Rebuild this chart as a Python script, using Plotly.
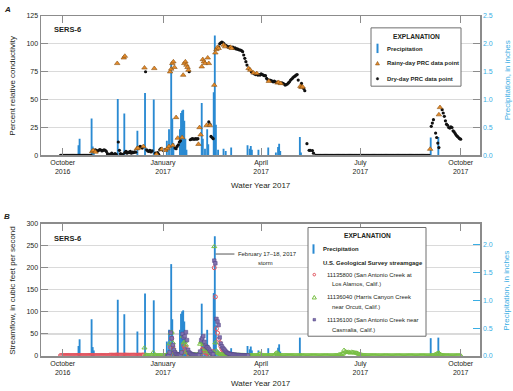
import plotly.graph_objects as go
import pandas as pd

# ---------------- data (day = days after 1 Oct 2016, start of water year 2017) ----------------
WY_START = "2016-10-01"

precip_day = [14, 15, 26, 27, 28, 50, 56, 68, 75, 83, 95, 97, 99, 100, 101,
              107, 108, 109, 110, 111, 112, 113, 127, 128, 130, 132, 133,
              138, 139, 140, 142, 147, 149, 154, 169, 171, 172, 173, 179,
              188, 195, 197, 198, 199, 217, 218, 337, 344]
precip_in = [0.18, 0.30, 0.66, 0.16, 0.10, 1.01, 0.75, 0.44, 1.12, 1.00, 0.26, 0.47, 1.65, 0.66, 0.22,
             0.47, 0.76, 0.80, 0.82, 0.62, 0.30, 0.10, 0.94, 0.30, 0.12, 0.47, 0.20,
             1.13, 2.15, 0.55, 0.10, 0.12, 0.08, 0.14, 0.18, 0.12, 0.17, 0.10, 0.10,
             0.14, 0.05, 0.15, 0.21, 0.08, 0.33, 0.05, 0.32, 0.33]

# Dry-day PRC: two runs of zero readings
dry_zero_days_1 = list(range(-2, 27))
dry_zero_vals_1 = [0, 0, 0, 0, 0, 0, 0, 0, 0, 0, 0, 0, 0, 0, 0,
                   0, 0, 0, 0, 0, 0, 0, 0, 0, 0, 0, 0, 0, 0]
dry_zero_days_2 = list(range(232, 337))
dry_zero_vals_2 = [0, 0, 0, 0, 0, 0, 0, 0, 0, 0, 0, 0, 0, 0, 0,
                   0, 0, 0, 0, 0, 0, 0, 0, 0, 0, 0, 0, 0, 0, 0,
                   0, 0, 0, 0, 0, 0, 0, 0, 0, 0, 0, 0, 0, 0, 0,
                   0, 0, 0, 0, 0, 0, 0, 0, 0, 0, 0, 0, 0, 0, 0,
                   0, 0, 0, 0, 0, 0, 0, 0, 0, 0, 0, 0, 0, 0, 0,
                   0, 0, 0, 0, 0, 0, 0, 0, 0, 0, 0, 0, 0, 0, 0,
                   0, 0, 0, 0, 0, 0, 0, 0, 0, 0, 0, 0, 0, 0, 0]

dry_day = [29, 30, 31, 32, 33, 34, 35, 36, 37, 38, 39, 40,
           41, 42, 43, 44, 45, 46, 47, 48, 49,
           51, 52, 53, 54, 55,
           57, 58, 59, 60, 61, 62, 63, 64, 65, 66, 67,
           70, 71, 72, 73,
           76,
           77, 78, 79, 80, 81, 82,
           85, 86, 87, 88,
           89, 90, 92, 93, 95,
           103, 104, 105, 106, 107, 108,
           116,
           117, 118, 119, 120, 121, 122, 123, 124,
           134, 135, 136, 137, 138,
           143, 144, 145, 146, 147, 148, 150, 151, 152, 153, 156, 157, 158, 159, 160, 161, 162, 163, 164,
           165, 166, 167, 168, 169, 171, 173, 174, 176, 177, 179, 180, 181, 182, 183, 184, 185, 186, 187, 188,
           190, 191, 192, 193, 194, 195, 196, 199, 201, 202, 203, 204, 205, 206, 207, 208, 209, 210, 211, 212,
           213, 214, 215, 216, 219, 221, 222,
           224, 226, 227, 229, 230,
           338, 339, 340, 342, 343, 344, 345,
           348, 349, 350, 351, 352, 353, 354, 355, 356, 357, 358, 359, 360, 361, 362, 363, 364, 365]
dry_val = [4.5, 5.0, 4.2, 3.8, 4.5, 5.2, 4.8, 4.0, 4.5, 5.0, 4.6, 3.5,
           1.5, 1.0, 0.8, 1.2, 2.0, 0.5, 1.0, 1.5, 1.0,
           12.0, 4.5, 1.5, 0.8, 1.0,
           2.5, 3.5, 2.0, 3.0, 2.5, 3.5, 2.0, 3.0, 2.5, 3.2, 2.8,
           7.0, 8.0, 7.5, 6.5,
           75.0,
           5.0, 4.0, 3.5, 4.5, 3.0, 4.0,
           2.0, 1.5, 2.5, 1.0,
           5.0, 6.0, 4.5, 5.0, 5.5,
           6.5, 6.0, 8.0, 9.5, 12.0, 13.0,
           75.0,
           14.0, 14.5, 15.0, 14.5, 14.5, 15.0, 14.5, 15.0,
           30.0, 28.0, 17.0, 16.0, 15.0,
           97.0, 100.0, 101.0, 101.5, 101.0, 100.0, 98.5, 97.5, 97.0, 97.5, 97.0, 96.0, 96.5, 95.5, 95.5, 95.0, 94.5, 94.5, 94.0,
           93, 90, 87, 84, 81, 77.5, 75, 74, 73, 72.5, 72, 72.5, 72, 73, 72.5, 72, 71.5, 71.5, 69, 68,
           67.5, 67, 66.5, 66, 66.5, 66, 65.5, 65, 65, 64.5, 64, 63, 63.5, 64, 65, 66, 67.5, 68.5, 69.5, 70.5,
           71, 72, 72.5, 67.5, 64.5, 60, 58,
           10.5, 4.5, 4.5, 4.3, 2.0,
           26, 29, 32, 20, 16, 11, 7,
           41, 38, 35, 31, 28, 27, 25, 24.5, 25.5, 25, 22, 21, 19.5, 18, 17, 16, 15, 14.5]

rainy_day = [27, 28, 30, 50, 56, 57, 68, 69, 74, 75, 84, 86,
             91, 94, 96, 97.5, 98.5, 99.5, 100.5, 101.5, 102.5, 101, 104, 105.5, 109.5, 110.5, 111.5, 112.5, 113.5, 114.5, 115.3,
             124.5, 125.5, 126.5, 127.5, 128.5, 129.5, 130.5, 132, 133, 134, 135,
             139, 140, 141, 142, 143, 147.5, 149, 154, 155,
             170.5, 172, 175, 178, 189, 197, 198, 200, 218, 219, 220, 337, 345, 346]
rainy_val = [3.5, 4.5, 3.0, 82.5, 87.5, 89.0, 6.0, 6.5, 8.0, 78.5, 78.0, 1.0,
             5.5, 4.5, 6.0, 8.0, 75.0, 77.5, 82.5, 84.0, 79.0, 9.0, 34.0, 15.5, 16.0, 72.0, 82.5, 84.0, 81.0, 79.0, 76.5,
             10.0, 25.0, 18.5, 79.5, 86.0, 84.0, 82.5, 27.0, 87.5, 82.5, 27.0,
             63.0, 92.0, 95.0, 97.0, 96.0, 99.0, 97.5, 97.0, 96.0,
             78.0, 76.5, 74.0, 73.5, 66.5, 65.0, 65.5, 64.5, 62.0, 61.0, 61.5, 5.6, 36.5, 43.0]

# Streamflow, cubic feet per second
q800_base_day = list(range(-2, 75))
q800_base_val = [1.0, 1.1, 1.0, 0.9, 1.0, 1.0, 1.1, 1.2, 1.0, 0.9,
                 1.0, 1.0, 1.1, 1.0, 1.0, 1.2, 1.3, 1.1, 1.0, 1.0,
                 1.0, 1.0, 0.9, 1.0, 1.0, 1.0, 1.1, 1.3, 1.4, 1.2,
                 1.1, 1.1, 1.0, 1.0, 1.0, 1.0, 1.0, 1.0, 1.1, 1.0,
                 1.0, 1.0, 1.0, 1.0, 1.0,
                 1.8, 1.8, 1.9, 1.8, 1.8, 1.9, 2.0, 2.2, 2.0, 1.9,
                 1.9, 1.9, 1.8, 2.0, 2.1, 2.0, 1.9, 1.9, 1.8, 1.8,
                 1.8, 1.8, 1.9, 1.8, 1.8, 1.8, 1.9, 2.0, 1.9, 1.8,
                 2.0, 2.2]
q800_storm_day = [98, 99, 100, 101, 102, 103, 104, 105,
                  110, 111, 112, 113, 114, 115, 116,
                  127, 128, 129, 130, 131, 132, 133, 134,
                  138, 139, 140, 141, 142, 143, 144, 145, 146, 147, 148, 149, 150, 151, 152, 153, 154, 155]
q800_storm_val = [2, 20, 40, 22, 10, 5, 3, 2,
                  8, 24, 18, 20, 10, 5, 3,
                  6, 15, 21, 14, 8, 6, 7, 4,
                  10, 200, 134, 62, 52, 38, 30, 22, 16, 12, 9, 7, 5, 4, 3, 3, 2, 2]

q040_day = list(range(75, 366))
q040_val = [18.5, 3, 2, 1.8, 1.5, 1.6, 1.4, 1.5, 8, 2.5,
            2, 1.8, 1.6, 1.5, 1.6, 1.5, 1.4, 1.5, 1.6, 1.5, 2, 3,
            5, 28, 52, 54, 30, 14, 8, 5, 4, 3, 3, 4,
            8, 45, 30, 32, 25, 12, 8, 6, 5, 4,
            4, 3.5, 3.5, 3, 3, 3,
            6, 27, 32, 30, 26, 15, 10, 16, 17, 12, 8, 6, 5, 8,
            248, 30, 12, 8, 6, 5, 4,
            4, 3.5, 3.5, 3, 3, 3, 3, 2.8, 2.8, 2.6, 2.5, 2.5, 2.4, 2.3, 2.2, 2.2, 2.1, 2, 2, 2, 1.9, 1.9, 1.8, 1.8, 1.8,
            1.8, 1.7, 1.7, 1.8, 1.7, 1.6, 1.7, 1.6, 1.6, 4, 5, 3, 2, 1.8, 1.7,
            1.6, 1.6, 1.5, 1.5, 1.6, 1.5, 1.5, 1.4, 1.5, 5, 7, 7, 4, 2, 1.6,
            1.5, 1.4, 1.4, 1.5, 1.4, 1.4, 1.3, 1.4, 1.4, 1.3, 1.3, 1.4, 1.3, 1.3, 1.3,
            1.2, 1.3, 1.3, 1.2, 1.2, 1.3, 1.2, 1.2, 1.2, 1.3, 1.2, 1.2, 1.2, 1.1, 1.2,
            1.2, 1.1, 1.2, 1.2, 1.1, 1.1, 1.2, 1.1, 1.1, 1.2, 1.1, 1.1, 1.2, 1.1, 1.1,
            1.2, 1.1, 1.2, 1.3, 1.4, 1.6, 1.8, 2.5, 3.0, 3.5, 4.0, 5.0,
            13, 10, 9, 8, 9, 8, 7, 9, 8, 8, 7, 7, 6.5,
            5.0, 4.0, 3.0, 2.5, 2.0, 1.8, 1.6, 1.5, 1.4, 1.4, 1.3, 1.3, 1.2,
            1.2, 1.2, 1.1, 1.2, 1.1, 1.1, 1.2, 1.1, 1.1, 1.0, 1.1, 1.1, 1.0, 1.1,
            1.0, 1.0, 1.1, 1.0, 1.0, 1.0, 1.1, 1.0, 1.0, 1.0, 1.0, 1.1, 1.0, 1.0,
            1.0, 1.0, 1.0, 1.1, 1.0, 1.0, 1.0, 1.0, 1.0, 1.1, 1.0, 1.0, 1.0, 1.0,
            1.0, 1.1, 1.0, 1.0, 1.0, 1.0, 1.1, 1.0, 1.0, 1.0, 1.0, 1.0, 1.2, 1.5,
            1.8, 2.5, 3.5, 5.0, 6.0,
            7,
            4.0, 2.5, 1.8, 1.5, 1.3, 1.2, 1.2, 1.1, 1.2, 1.1,
            1.1, 1.2, 1.1, 1.1, 1.0, 1.1, 1.1, 1.0, 1.1, 1.0,
            1.0, 1.1, 1.0, 1.0, 1.0, 1.1, 1.0, 1.0, 1.0]

q100_day = list(range(96, 171))
q100_val = [0.5, 1, 8, 53, 40, 25, 14, 8, 5, 4, 3, 3, 2,
            8, 50, 42, 45, 54, 36, 14, 8, 6, 4, 3, 3, 2, 2, 2, 2,
            3, 10, 36, 40, 45, 32, 23, 20, 19, 16, 12, 8, 5, 4,
            216, 210, 84, 78, 70, 42, 28, 22, 18, 15, 12, 9, 7, 6, 5, 4, 4, 3, 3, 3, 2, 2,
            2, 2, 1.5, 1.5, 1.5, 1, 1, 1, 1, 1]

tick_dates = ["2016-10-01", "2017-01-01", "2017-04-01", "2017-07-01", "2017-10-01"]
tick_text = ["October<br>2016", "January<br>2017", "April<br>2017", "July<br>2017", "October<br>2017"]
prc_ticks = [0, 25, 50, 75, 100, 125]
flow_ticks = [0, 50, 100, 150, 200, 250, 300]
precip_ticks_a = [0.0, 0.5, 1.0, 1.5, 2.0, 2.5]
precip_ticks_b = [0.0, 0.5, 1.0, 1.5, 2.0]

# ---------------- helpers ----------------
BASE = pd.Timestamp(WY_START)


def to_dates(days):
    return [BASE + pd.Timedelta(days=float(d)) for d in days]


W, H = 513, 391
ML, MR, MT, MB = 41, 33, 12, 35
PW = W - ML - MR
PH = H - MT - MB


def xp(px):
    return (px - ML) / PW


def yp(py):
    return (H - MB - py) / PH


FONT = "Liberation Sans, Arial, sans-serif"
TXT = "#231f20"
FRAME = "#8c8c8c"
GRID = "#dadada"
BAR = "#2a8ad2"
LBLUE = "#3aaee4"
ORANGE = "#e58b2a"
ORANGE_EDGE = "#8a5214"
RED = "#e2545f"
GREEN = "#79bf45"
PURPLE = "#8373b0"
PURPLE_EDGE = "#4e4080"

DAY_MS = 86400000

fig = go.Figure()

# ---- Panel A ----
fig.add_trace(go.Bar(x=to_dates(precip_day), y=precip_in, width=1.7 * DAY_MS,
                     xperiod=DAY_MS, xperiodalignment="middle",
                     marker=dict(color=BAR, line=dict(width=0)),
                     xaxis="x", yaxis="y", showlegend=False, hoverinfo="skip"))
fig.add_trace(go.Scatter(x=to_dates(dry_zero_days_1 + dry_day + dry_zero_days_2),
                         y=dry_zero_vals_1 + dry_val + dry_zero_vals_2,
                         mode="markers", marker=dict(symbol="circle", size=3.2, color="#111111"),
                         xaxis="x", yaxis="y2", showlegend=False, hoverinfo="skip"))
fig.add_trace(go.Scatter(x=to_dates(rainy_day), y=rainy_val, mode="markers",
                         marker=dict(symbol="triangle-up", size=4.8, color=ORANGE,
                                     line=dict(color=ORANGE_EDGE, width=0.6)),
                         xaxis="x", yaxis="y2", showlegend=False, hoverinfo="skip"))

# ---- Panel B ----
fig.add_trace(go.Bar(x=to_dates(precip_day), y=precip_in, width=1.7 * DAY_MS,
                     xperiod=DAY_MS, xperiodalignment="middle",
                     marker=dict(color=BAR, line=dict(width=0)),
                     xaxis="x2", yaxis="y3", showlegend=False, hoverinfo="skip"))
fig.add_trace(go.Scatter(x=to_dates(q800_base_day + q800_storm_day), y=q800_base_val + q800_storm_val,
                         mode="markers", marker=dict(symbol="circle-open", size=4.0, color=RED,
                                                     line=dict(width=1)),
                         xaxis="x2", yaxis="y4", showlegend=False, hoverinfo="skip"))
fig.add_trace(go.Scatter(x=to_dates(q040_day), y=q040_val,
                         mode="markers", marker=dict(symbol="triangle-up-open", size=4.4, color=GREEN,
                                                     line=dict(width=1)),
                         xaxis="x2", yaxis="y4", showlegend=False, hoverinfo="skip"))
fig.add_trace(go.Scatter(x=to_dates(q100_day), y=q100_val,
                         mode="markers", marker=dict(symbol="square", size=3.6, color=PURPLE,
                                                     line=dict(color=PURPLE_EDGE, width=0.5)),
                         xaxis="x2", yaxis="y4", showlegend=False, hoverinfo="skip"))

x_range = ["2016-09-11 02:24", "2017-10-18 16:48"]
tickfont = dict(family=FONT, size=7, color=TXT)
xaxis_common = dict(type="date", range=x_range, tickvals=tick_dates, ticktext=tick_text,
                    ticks="inside", ticklen=7, tickcolor=FRAME, tickwidth=1,
                    showline=True, linecolor=FRAME, linewidth=1.5, mirror="ticks",
                    showgrid=False, zeroline=False, tickfont=tickfont, fixedrange=True)

yA = [yp(153), yp(12)]
yB = [yp(356), yp(222)]

fig.update_layout(
    width=W, height=H, autosize=False,
    margin=dict(l=ML, r=MR, t=MT, b=MB, pad=0),
    paper_bgcolor="white", plot_bgcolor="white",
    showlegend=False, barmode="overlay",
    xaxis=dict(domain=[0, 1], anchor="y", **xaxis_common),
    xaxis2=dict(domain=[0, 1], anchor="y3", **xaxis_common),
    yaxis=dict(domain=yA, anchor="x", side="right", range=[0, 2.5],
               tickvals=precip_ticks_a, ticktext=["%.1f" % v for v in precip_ticks_a],
               ticks="inside", ticklen=7, tickcolor=FRAME, showline=True, linecolor=FRAME, linewidth=1.5,
               showgrid=False, zeroline=False, tickfont=dict(family=FONT, size=7, color=LBLUE)),
    yaxis2=dict(overlaying="y", anchor="x", side="left", range=[0, 125], tickvals=prc_ticks,
                ticks="inside", ticklen=7, tickcolor=FRAME, showline=True, linecolor=FRAME, linewidth=1.5,
                showgrid=True, gridcolor=GRID, gridwidth=1.2, zeroline=False, tickfont=tickfont),
    yaxis3=dict(domain=yB, anchor="x2", side="right", range=[0, 2.378],
                tickvals=precip_ticks_b, ticktext=["%.1f" % v for v in precip_ticks_b],
                ticks="inside", ticklen=7, tickcolor=LBLUE, showline=True, linecolor=FRAME, linewidth=1.5,
                showgrid=False, zeroline=False, tickfont=dict(family=FONT, size=7, color=LBLUE)),
    yaxis4=dict(overlaying="y3", anchor="x2", side="left", range=[0, 300], tickvals=flow_ticks,
                ticks="inside", ticklen=7, tickcolor=FRAME, showline=True, linecolor=FRAME, linewidth=1.5,
                showgrid=True, gridcolor=GRID, gridwidth=1.2, zeroline=False, tickfont=tickfont),
)

ann = []
shapes = []


def text(x, y, s, size=7, color=TXT, bold=False, italic=False, xanchor="left", angle=0):
    if bold:
        s = "<b>" + s + "</b>"
    if italic:
        s = "<i>" + s + "</i>"
    ann.append(dict(x=xp(x), y=yp(y), xref="paper", yref="paper", text=s, showarrow=False,
                    xanchor=xanchor, yanchor="middle", textangle=angle,
                    font=dict(family=FONT, size=size, color=color)))


# panel letters and site labels
text(2, 5, "A", size=8, bold=True, italic=True)
text(2, 215, "B", size=8, bold=True, italic=True)
text(52, 26, "SERS-6", size=7.5, bold=True)
text(52, 236.7, "SERS-6", size=7.5, bold=True)

# axis titles
text(13, 82.5, "Percent relative conductivity", size=8, xanchor="center", angle=-90)
text(507, 77, "Precipitation, in inches", size=8, xanchor="center", angle=-90, color=LBLUE)
text(261, 183, "Water Year 2017", size=8, xanchor="center")
text(13, 290, "Streamflow, in cubic feet per second", size=8, xanchor="center", angle=-90)
text(507, 290, "Precipitation, in inches", size=8, xanchor="center", angle=-90, color=LBLUE)
text(261, 384, "Water Year 2017", size=8, xanchor="center")

# storm annotation (panel B)
shapes.append(dict(type="line", xref="x2", yref="y4",
                   x0=pd.Timestamp("2017-02-18 06:00"), x1=pd.Timestamp("2017-03-07 12:00"),
                   y0=231, y1=231, line=dict(color="#555555", width=1)))
text(236, 253.3, "February 17\u201318, 2017", size=5.9)
text(265.5, 261.5, "storm", size=5.9, xanchor="center")

LEG = 5.9
# Legend A
shapes.append(dict(type="rect", xref="paper", yref="paper", x0=xp(371), x1=xp(461), y0=yp(83), y1=yp(24),
                   line=dict(color="#6e6e6e", width=1), fillcolor="white", layer="above"))
text(416, 32.5, "EXPLANATION", size=6.6, bold=True, xanchor="center")
shapes.append(dict(type="rect", xref="paper", yref="paper", x0=xp(376.5), x1=xp(378.5), y0=yp(49.5), y1=yp(40),
                   line=dict(width=0), fillcolor=BAR, layer="above"))
text(384.5, 45, "Precipitation", size=LEG, bold=True)
shapes.append(dict(type="path", xref="paper", yref="paper",
                   path="M %f %f L %f %f L %f %f Z" % (xp(375.5), yp(61.5), xp(379.5), yp(61.5), xp(377.5), yp(58)),
                   line=dict(color=ORANGE_EDGE, width=0.6), fillcolor=ORANGE, layer="above"))
text(384.5, 60, "Rainy-day PRC data point", size=LEG, bold=True)
shapes.append(dict(type="circle", xref="paper", yref="paper", x0=xp(376.3), x1=xp(378.7), y0=yp(76.7), y1=yp(74.3),
                   line=dict(color="#111111", width=0.5), fillcolor="#111111", layer="above"))
text(384.5, 75.5, "Dry-day PRC data point", size=LEG, bold=True)

# Legend B
shapes.append(dict(type="rect", xref="paper", yref="paper", x0=xp(308), x1=xp(426), y0=yp(336), y1=yp(226),
                   line=dict(color="#6e6e6e", width=1), fillcolor="white", layer="above"))
text(367, 234.5, "EXPLANATION", size=6.6, bold=True, xanchor="center")
shapes.append(dict(type="rect", xref="paper", yref="paper", x0=xp(312.5), x1=xp(314.5), y0=yp(252.5), y1=yp(243),
                   line=dict(width=0), fillcolor=BAR, layer="above"))
text(320.5, 247.5, "Precipitation", size=LEG, bold=True)
text(320.5, 262.3, "U.S. Geological Survey streamgage", size=LEG, bold=True)
shapes.append(dict(type="circle", xref="paper", yref="paper", x0=xp(313), x1=xp(315.6), y0=yp(275), y1=yp(272.4),
                   line=dict(color=RED, width=1), fillcolor="rgba(0,0,0,0)", layer="above"))
text(325, 273.7, "11135800 (San Antonio Creek at", size=LEG)
text(330, 283.3, "Los Alamos, Calif.)", size=LEG)
shapes.append(dict(type="path", xref="paper", yref="paper",
                   path="M %f %f L %f %f L %f %f Z" % (xp(312.2), yp(298.3), xp(316.4), yp(298.3), xp(314.3), yp(294.7)),
                   line=dict(color=GREEN, width=1), fillcolor="rgba(0,0,0,0)", layer="above"))
text(325, 296.7, "11136040 (Harris Canyon Creek", size=LEG)
text(330, 306.7, "near Orcutt, Calif.)", size=LEG)
shapes.append(dict(type="rect", xref="paper", yref="paper", x0=xp(313), x1=xp(315.6), y0=yp(320.6), y1=yp(318),
                   line=dict(color=PURPLE_EDGE, width=0.5), fillcolor=PURPLE, layer="above"))
text(325, 319.3, "11136100 (San Antonio Creek near", size=LEG)
text(330, 330, "Casmalia, Calif.)", size=LEG)

fig.update_layout(annotations=ann, shapes=shapes)
fig.write_html("out.html", config={"displayModeBar": False, "staticPlot": True},
               post_script="document.body.style.margin='0';document.body.style.padding='0';")
